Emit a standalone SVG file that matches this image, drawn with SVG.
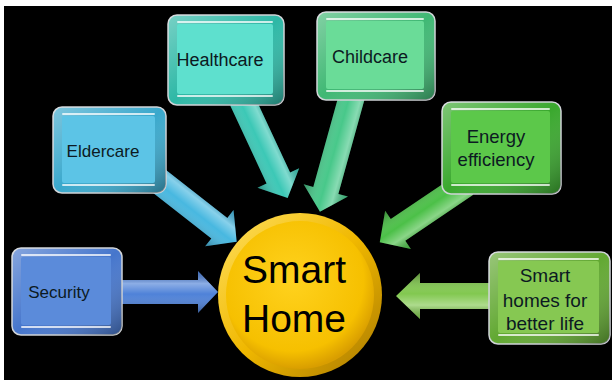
<svg xmlns="http://www.w3.org/2000/svg" xmlns:xlink="http://www.w3.org/1999/xlink" width="612" height="380" viewBox="0 0 612 380">
<defs>
<style>
.lbl{font-family:"Liberation Sans","Noto Sans",Arial,sans-serif;font-size:17px;text-anchor:middle;fill:#0c1a22}
.big{font-family:"Liberation Sans","Noto Sans",Arial,sans-serif;font-size:39px;text-anchor:middle;fill:#000}
.frame{stroke:#d0d4d8;stroke-width:1.5}
.shine{fill:url(#shine)}
.bev{fill:url(#bev)}
.hl{stroke:#ffffff;stroke-opacity:0.75;stroke-width:2;stroke-linecap:round;fill:none}
</style>
<linearGradient id="shine" x1="0" y1="0" x2="0" y2="1">
<stop offset="0" stop-color="#000" stop-opacity="0.15"/>
<stop offset="0.3" stop-color="#fff" stop-opacity="0.35"/>
<stop offset="0.55" stop-color="#fff" stop-opacity="0"/>
<stop offset="1" stop-color="#000" stop-opacity="0.3"/>
</linearGradient>
<linearGradient id="bev" x1="0" y1="0" x2="1" y2="1">
<stop offset="0" stop-color="#fff" stop-opacity="0.35"/>
<stop offset="0.5" stop-color="#fff" stop-opacity="0"/>
<stop offset="1" stop-color="#000" stop-opacity="0.35"/>
</linearGradient>
<radialGradient id="gold" cx="0.45" cy="0.4" r="0.6">
<stop offset="0" stop-color="#FFD21E"/>
<stop offset="0.8" stop-color="#F6C000"/>
<stop offset="1" stop-color="#D99E00"/>
</radialGradient>
<linearGradient id="rim" x1="0" y1="0" x2="1" y2="1">
<stop offset="0" stop-color="#FFE060"/>
<stop offset="0.5" stop-color="#F0B800"/>
<stop offset="1" stop-color="#A87800"/>
</linearGradient>
</defs>

<rect x="0" y="0" width="612" height="380" fill="#ffffff"/>
<rect x="4" y="6" width="608" height="374" fill="#000000"/>

<g id="connectors">
 <g transform="translate(122,292)">
  <path d="M0,-12 L76,-12 L76,-21 L96,0 L76,21 L76,12 L0,12 Z" fill="#4F82D8"/>
  <path class="shine" d="M0,-12 L76,-12 L76,-21 L96,0 L76,21 L76,12 L0,12 Z"/>
 </g>
 <g transform="translate(150,174) rotate(38)">
  <path d="M0,-13 L88,-13 L88,-23 L110,0 L88,23 L88,13 L0,13 Z" fill="#48B8E0"/>
  <path class="shine" d="M0,-13 L88,-13 L88,-23 L110,0 L88,23 L88,13 L0,13 Z"/>
 </g>
 <g transform="translate(242,100) rotate(65)">
  <path d="M0,-13 L86,-13 L86,-23 L108,0 L86,23 L86,13 L0,13 Z" fill="#3CC8B6"/>
  <path class="shine" d="M0,-13 L86,-13 L86,-23 L108,0 L86,23 L86,13 L0,13 Z"/>
 </g>
 <g transform="translate(352,96) rotate(105.5)">
  <path d="M0,-13 L98,-13 L98,-23 L120,0 L98,23 L98,13 L0,13 Z" fill="#48C88A"/>
  <path class="shine" d="M0,-13 L98,-13 L98,-23 L120,0 L98,23 L98,13 L0,13 Z"/>
 </g>
 <g transform="translate(466,184) rotate(146)">
  <path d="M0,-13 L82,-13 L82,-23 L104,0 L82,23 L82,13 L0,13 Z" fill="#4CC048"/>
  <path class="shine" d="M0,-13 L82,-13 L82,-23 L104,0 L82,23 L82,13 L0,13 Z"/>
 </g>
 <g transform="translate(490,296) rotate(180)">
  <path d="M0,-13 L70,-13 L70,-23 L94,0 L70,23 L70,13 L0,13 Z" fill="#82C850"/>
  <path class="shine" d="M0,-13 L70,-13 L70,-23 L94,0 L70,23 L70,13 L0,13 Z"/>
 </g>
</g>

<g id="smart-home">
 <circle cx="300" cy="295" r="82" fill="url(#rim)"/>
 <circle cx="300" cy="295" r="74" fill="url(#gold)"/>
 <text class="big" x="294" y="283">Smart</text>
 <text class="big" x="294" y="332">Home</text>
</g>

<g id="security">
 <rect class="frame" x="12" y="248" width="110" height="87" rx="9" fill="#4676CC"/>
 <rect class="bev" x="12" y="248" width="110" height="87" rx="9"/>
 <rect x="21" y="257" width="90" height="68" rx="2" fill="#5B8BDA"/>
 <path class="hl" d="M22,255 H110 M22,327 H110"/>
 <text class="lbl" x="59" y="298" fill="#14254a">Security</text>
</g>

<g id="eldercare">
 <rect class="frame" x="53" y="107" width="113" height="86" rx="9" fill="#3AA8CC"/>
 <rect class="bev" x="53" y="107" width="113" height="86" rx="9"/>
 <rect x="62" y="116" width="93" height="67" rx="2" fill="#5CC4E6"/>
 <path class="hl" d="M63,114 H154 M63,185 H154"/>
 <text class="lbl" x="103" y="157">Eldercare</text>
</g>

<g id="healthcare">
 <rect class="frame" x="168" y="15" width="116" height="90" rx="9" fill="#2EB8A6"/>
 <rect class="bev" x="168" y="15" width="116" height="90" rx="9"/>
 <rect x="177" y="24" width="96" height="70" rx="2" fill="#5EE0CE"/>
 <path class="hl" d="M178,22 H272 M178,96 H272"/>
 <text class="lbl" x="220" y="66" style="font-size:18px">Healthcare</text>
</g>

<g id="childcare">
 <rect class="frame" x="317" y="12" width="118" height="88" rx="9" fill="#40B874"/>
 <rect class="bev" x="317" y="12" width="118" height="88" rx="9"/>
 <rect x="326" y="21" width="98" height="68" rx="2" fill="#6ADC98"/>
 <path class="hl" d="M327,19 H423 M327,91 H423"/>
 <text class="lbl" x="370" y="63" style="font-size:18px">Childcare</text>
</g>

<g id="energy-efficiency">
 <rect class="frame" x="442" y="102" width="119" height="92" rx="9" fill="#3AA82E"/>
 <rect class="bev" x="442" y="102" width="119" height="92" rx="9"/>
 <rect x="451" y="111" width="99" height="72" rx="2" fill="#5CC84A"/>
 <path class="hl" d="M452,109 H549 M452,185 H549"/>
 <text class="lbl" x="496" y="143" style="font-size:18.5px">Energy</text>
 <text class="lbl" x="496" y="166" style="font-size:18.5px">efficiency</text>
</g>

<g id="smart-homes-better-life">
 <rect class="frame" x="489" y="252" width="121" height="92" rx="9" fill="#62A832"/>
 <rect class="bev" x="489" y="252" width="121" height="92" rx="9"/>
 <rect x="498" y="261" width="101" height="72" rx="2" fill="#86C852"/>
 <path class="hl" d="M499,259 H598 M499,335 H598"/>
 <text class="lbl" x="545" y="282" style="font-size:19px">Smart</text>
 <text class="lbl" x="545" y="307" style="font-size:19px">homes for</text>
 <text class="lbl" x="545" y="330" style="font-size:19px">better life</text>
</g>
</svg>
